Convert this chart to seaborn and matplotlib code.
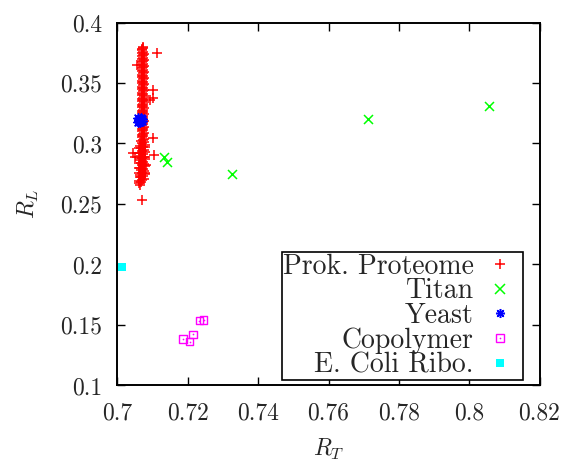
import matplotlib
matplotlib.use("Agg")
import matplotlib.pyplot as plt
from matplotlib.lines import Line2D
from matplotlib.legend_handler import HandlerTuple
import seaborn as sns

# ---------------- data ----------------
# Prokaryotic proteomes: dense column
prok_y_core = [
    0.380, 0.379, 0.378,
    0.377, 0.376, 0.375, 0.374, 0.373, 0.372, 0.371, 0.370, 0.369, 0.368,
    0.367, 0.366, 0.365, 0.364, 0.363, 0.362, 0.361, 0.360, 0.359, 0.358,
    0.357, 0.356, 0.355, 0.354, 0.353, 0.352, 0.351, 0.350, 0.349, 0.348,
    0.347, 0.346, 0.345, 0.344, 0.343, 0.342, 0.341, 0.340, 0.339, 0.338,
    0.337, 0.336, 0.335, 0.334, 0.333, 0.332, 0.331, 0.330, 0.329, 0.328,
    0.327, 0.326, 0.325, 0.324, 0.323, 0.322, 0.321, 0.320, 0.319, 0.318,
    0.317, 0.316, 0.315, 0.314, 0.313, 0.312, 0.311, 0.310, 0.309, 0.308,
    0.307, 0.306, 0.305, 0.304, 0.303,
    0.302, 0.301, 0.300, 0.299, 0.298, 0.297, 0.296, 0.295, 0.294, 0.293,
    0.292, 0.291, 0.290, 0.289, 0.288, 0.287, 0.286, 0.285, 0.284, 0.283,
    0.282, 0.281, 0.280, 0.279, 0.278, 0.277, 0.276, 0.275, 0.274, 0.273,
    0.272, 0.271, 0.270,
    0.269, 0.268, 0.267, 0.266,
]
prok_x_core = [
    0.7072, 0.7072, 0.7071,
    0.7071, 0.7073, 0.7070, 0.7074, 0.7072, 0.7071, 0.7073, 0.7070, 0.7074, 0.7072,
    0.7071, 0.7073, 0.7070, 0.7074, 0.7072, 0.7071, 0.7073, 0.7070, 0.7074, 0.7072,
    0.7071, 0.7073, 0.7070, 0.7074, 0.7072, 0.7071, 0.7073, 0.7070, 0.7074, 0.7072,
    0.7071, 0.7073, 0.7070, 0.7074, 0.7072, 0.7071, 0.7073, 0.7070, 0.7074, 0.7072,
    0.7071, 0.7073, 0.7070, 0.7074, 0.7072, 0.7071, 0.7073, 0.7070, 0.7074, 0.7072,
    0.7071, 0.7073, 0.7070, 0.7074, 0.7072, 0.7071, 0.7073, 0.7070, 0.7074, 0.7072,
    0.7071, 0.7073, 0.7070, 0.7074, 0.7072, 0.7071, 0.7073, 0.7070, 0.7074, 0.7072,
    0.7071, 0.7073, 0.7070, 0.7074, 0.7072,
    0.7066, 0.7076, 0.7070, 0.7078, 0.7064, 0.7073, 0.7066, 0.7076, 0.7070, 0.7078,
    0.7064, 0.7073, 0.7066, 0.7076, 0.7070, 0.7078, 0.7064, 0.7073, 0.7066, 0.7076,
    0.7070, 0.7078, 0.7064, 0.7073, 0.7066, 0.7076, 0.7070, 0.7078, 0.7064, 0.7073,
    0.7066, 0.7076, 0.7070,
    0.7062, 0.7066, 0.7060, 0.7064,
]
prok_x_extra = [0.7062, 0.7061, 0.7063, 0.7060, 0.7062, 0.7061, 0.7063,
                0.7079, 0.7079, 0.7080, 0.7078,
                0.7112, 0.7102, 0.7093, 0.7100, 0.7102, 0.7105, 0.7045,
                0.7050, 0.7071, 0.7055]
prok_y_extra = [0.296, 0.292, 0.288, 0.284, 0.280, 0.276, 0.272,
                0.297, 0.289, 0.282, 0.276,
                0.3748, 0.3442, 0.3360, 0.3378, 0.3043, 0.2905, 0.2919,
                0.2891, 0.2533, 0.3649]
prok_x = prok_x_core + prok_x_extra
prok_y = prok_y_core + prok_y_extra

titan_x = [0.7131, 0.7142, 0.7326, 0.7712, 0.8055]
titan_y = [0.2891, 0.2845, 0.2745, 0.3200, 0.3310]

yeast_x = [0.7058, 0.7066, 0.7062, 0.7069, 0.7057, 0.7065, 0.7071, 0.7061, 0.7064]
yeast_y = [0.3208, 0.3212, 0.3190, 0.3183, 0.3180, 0.3175, 0.3200, 0.3197, 0.3204]

copol_x = [0.7186, 0.7205, 0.7215, 0.7233, 0.7245]
copol_y = [0.1382, 0.1362, 0.1423, 0.1536, 0.1541]

ecoli_x = [0.7012]
ecoli_y = [0.1980]

series_labels = ["Prok. Proteome", "Titan", "Yeast", "Copolymer", "E. Coli Ribo."]
xticks = [0.70, 0.72, 0.74, 0.76, 0.78, 0.80, 0.82]
xtick_labels = ["0.7", "0.72", "0.74", "0.76", "0.78", "0.8", "0.82"]
yticks = [0.10, 0.15, 0.20, 0.25, 0.30, 0.35, 0.40]
ytick_labels = ["0.1", "0.15", "0.2", "0.25", "0.3", "0.35", "0.4"]

# ---------------- style ----------------
sns.set_style("ticks")
plt.rcParams["font.family"] = ["cmr10", "DejaVu Serif"]
plt.rcParams["mathtext.fontset"] = "cm"
plt.rcParams["axes.unicode_minus"] = False

RED, GREEN, BLUE, MAG, CYAN = "#ff0000", "#00ff00", "#0000ff", "#ff00ff", "#00ffff"
FS = 17
LFS = 20

fig = plt.figure(figsize=(5.69, 4.63), dpi=100)
ax = fig.add_axes([0.2065, 0.1674, 0.7417, 0.784])

sns.scatterplot(x=prok_x, y=prok_y, marker="+", s=42, color=RED, linewidth=1.1, ax=ax, legend=False, zorder=3)
sns.scatterplot(x=titan_x, y=titan_y, marker="x", s=42, color=GREEN, linewidth=1.1, ax=ax, legend=False, zorder=3)
sns.scatterplot(x=yeast_x, y=yeast_y, marker=(8, 2, 0), s=45, color=BLUE, linewidth=1.1, ax=ax, legend=False, zorder=4)
sns.scatterplot(x=copol_x, y=copol_y, marker="s", s=30, color=MAG, facecolor="none", edgecolor=MAG, linewidth=1.0, ax=ax, legend=False, zorder=4)
sns.scatterplot(x=copol_x, y=copol_y, marker="o", s=1.5, color=MAG, edgecolor=MAG, linewidth=0, ax=ax, legend=False, zorder=4)
sns.scatterplot(x=ecoli_x, y=ecoli_y, marker="s", s=34, color=CYAN, edgecolor=CYAN, linewidth=0, ax=ax, legend=False, zorder=4)

ax.set_xlim(0.70, 0.82)
ax.set_ylim(0.10, 0.40)
ax.set_xticks(xticks)
ax.set_xticklabels(xtick_labels)
ax.set_yticks(yticks)
ax.set_yticklabels(ytick_labels)
ax.tick_params(direction="in", top=True, right=True, length=6, width=1.0,
               labelsize=FS, color="black")
ax.tick_params(axis="x", pad=12)
ax.tick_params(axis="y", pad=11)
for sp in ax.spines.values():
    sp.set_visible(True)
    sp.set_linewidth(1.4)
    sp.set_color("black")

ax.set_xlabel(r"$R_T$", fontsize=FS, labelpad=9)
ax.set_ylabel(r"$R_L$", fontsize=FS, labelpad=14)

# legend
h_prok = Line2D([], [], ls="none", marker="+", ms=6.5, mew=1.1, color=RED)
h_titan = Line2D([], [], ls="none", marker="x", ms=6.5, mew=1.1, color=GREEN)
h_yeast = Line2D([], [], ls="none", marker=(8, 2, 0), ms=6.5, mew=1.1, color=BLUE)
h_cop_sq = Line2D([], [], ls="none", marker="s", ms=5.5, mew=1.0, mfc="none", mec=MAG)
h_cop_dot = Line2D([], [], ls="none", marker="o", ms=1.2, mew=0, color=MAG)
h_ecoli = Line2D([], [], ls="none", marker="s", ms=6, mew=0, color=CYAN)
leg = ax.legend([h_prok, h_titan, h_yeast, (h_cop_sq, h_cop_dot), h_ecoli], series_labels,
                handler_map={tuple: HandlerTuple(ndivide=1)},
                loc="lower right", bbox_to_anchor=(0.962, 0.0165), borderaxespad=0,
                markerfirst=False, fontsize=LFS, frameon=True, fancybox=False,
                edgecolor="black", framealpha=1, handlelength=1.6, handletextpad=0.15,
                borderpad=0.04, labelspacing=-0.06)
leg.get_frame().set_linewidth(1.2)
for t in leg.get_texts():
    t.set_ha("right")
leg._legend_box.align = "right"

fig.savefig("out.png", dpi=100)
